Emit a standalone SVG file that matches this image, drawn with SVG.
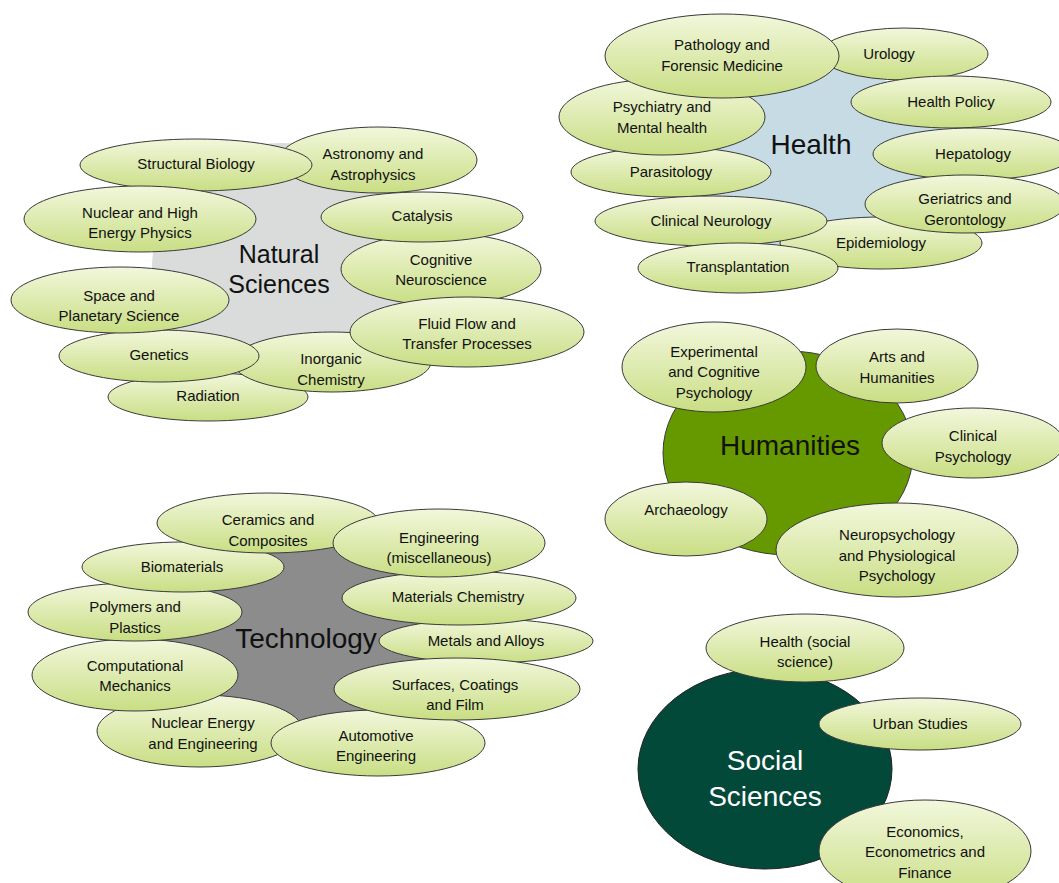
<svg xmlns="http://www.w3.org/2000/svg" width="1059" height="883" viewBox="0 0 1059 883">
  <defs>
    <linearGradient id="leafFill" x1="0" y1="0" x2="0" y2="1">
      <stop offset="0" stop-color="#f2f7dc"/>
      <stop offset="1" stop-color="#c9de84"/>
    </linearGradient>
    <style>
      .leaf { fill: url(#leafFill); stroke: #3a3a3a; stroke-width: 1; }
      .lbl { font-family: "Liberation Sans", Arial, sans-serif; font-size: 15px; fill: #111; text-anchor: middle; }
      .hub { font-family: "Liberation Sans", Arial, sans-serif; font-size: 28px; fill: #111; text-anchor: middle; }
    </style>
  </defs>
  <rect width="1059" height="883" fill="#ffffff"/>

  <!-- Natural Sciences cluster -->
  <g id="natural-sciences">
    <ellipse cx="282" cy="268" rx="130" ry="125" fill="#d9dcda"/>
    <g id="radiation"><ellipse class="leaf" cx="208" cy="397" rx="100" ry="24"/><text class="lbl" x="208" y="401">Radiation</text></g>
    <g id="inorganic-chemistry"><ellipse class="leaf" cx="332" cy="362" rx="99" ry="30"/><text class="lbl" x="331" y="364">Inorganic</text><text class="lbl" x="331" y="385">Chemistry</text></g>
    <g id="genetics"><ellipse class="leaf" cx="159" cy="356" rx="100" ry="26"/><text class="lbl" x="159" y="360">Genetics</text></g>
    <g id="space-planetary"><ellipse class="leaf" cx="120" cy="300" rx="109" ry="33"/><text class="lbl" x="119" y="301">Space and</text><text class="lbl" x="119" y="321">Planetary Science</text></g>
    <g id="astronomy"><ellipse class="leaf" cx="378" cy="160" rx="99" ry="33"/><text class="lbl" x="373" y="159">Astronomy and</text><text class="lbl" x="373" y="180">Astrophysics</text></g>
    <g id="structural-biology"><ellipse class="leaf" cx="196" cy="165" rx="116" ry="26"/><text class="lbl" x="196" y="169">Structural Biology</text></g>
    <g id="nuclear-high-energy"><ellipse class="leaf" cx="140" cy="219" rx="116" ry="33"/><text class="lbl" x="140" y="218">Nuclear and High</text><text class="lbl" x="140" y="238">Energy Physics</text></g>
    <g id="cognitive-neuroscience"><ellipse class="leaf" cx="441" cy="269" rx="100" ry="36"/><text class="lbl" x="441" y="265">Cognitive</text><text class="lbl" x="441" y="285">Neuroscience</text></g>
    <g id="catalysis"><ellipse class="leaf" cx="422" cy="217" rx="101" ry="25"/><text class="lbl" x="422" y="221">Catalysis</text></g>
    <g id="fluid-flow"><ellipse class="leaf" cx="467" cy="332" rx="117" ry="35"/><text class="lbl" x="467" y="329">Fluid Flow and</text><text class="lbl" x="467" y="349">Transfer Processes</text></g>
    <text class="hub" x="279" y="263" style="font-size:25px">Natural</text>
    <text class="hub" x="279" y="293" style="font-size:25px">Sciences</text>
  </g>

  <!-- Health cluster -->
  <g id="health">
    <ellipse cx="822" cy="163" rx="128" ry="95" fill="#c7dbe5"/>
    <g id="urology"><ellipse class="leaf" cx="904" cy="54" rx="84" ry="26"/><text class="lbl" x="889" y="59">Urology</text></g>
    <g id="parasitology"><ellipse class="leaf" cx="671" cy="172" rx="100" ry="25"/><text class="lbl" x="671" y="177">Parasitology</text></g>
    <g id="psychiatry"><ellipse class="leaf" cx="662" cy="117" rx="103" ry="38"/><text class="lbl" x="662" y="112">Psychiatry and</text><text class="lbl" x="662" y="133">Mental health</text></g>
    <g id="pathology"><ellipse class="leaf" cx="722" cy="56" rx="117" ry="42"/><text class="lbl" x="722" y="50">Pathology and</text><text class="lbl" x="722" y="71">Forensic Medicine</text></g>
    <g id="health-policy"><ellipse class="leaf" cx="951" cy="102" rx="100" ry="26"/><text class="lbl" x="951" y="107">Health Policy</text></g>
    <g id="hepatology"><ellipse class="leaf" cx="973" cy="154" rx="100" ry="26"/><text class="lbl" x="973" y="159">Hepatology</text></g>
    <g id="epidemiology"><ellipse class="leaf" cx="881" cy="243" rx="101" ry="26"/><text class="lbl" x="881" y="248">Epidemiology</text></g>
    <g id="geriatrics"><ellipse class="leaf" cx="965" cy="204" rx="100" ry="29"/><text class="lbl" x="965" y="204">Geriatrics and</text><text class="lbl" x="965" y="225">Gerontology</text></g>
    <g id="clinical-neurology"><ellipse class="leaf" cx="711" cy="221" rx="116" ry="25"/><text class="lbl" x="711" y="226">Clinical Neurology</text></g>
    <g id="transplantation"><ellipse class="leaf" cx="738" cy="268" rx="100" ry="25"/><text class="lbl" x="738" y="272">Transplantation</text></g>
    <text class="hub" x="811" y="154">Health</text>
  </g>

  <!-- Technology cluster -->
  <g id="technology">
    <ellipse cx="305" cy="635" rx="140" ry="115" fill="#8c8c8c"/>
    <g id="nuclear-energy"><ellipse class="leaf" cx="200" cy="731" rx="103" ry="36"/><text class="lbl" x="203" y="728">Nuclear Energy</text><text class="lbl" x="203" y="749">and Engineering</text></g>
    <g id="computational-mechanics"><ellipse class="leaf" cx="135" cy="675" rx="103" ry="36"/><text class="lbl" x="135" y="671">Computational</text><text class="lbl" x="135" y="691">Mechanics</text></g>
    <g id="polymers"><ellipse class="leaf" cx="135" cy="612" rx="107" ry="29"/><text class="lbl" x="135" y="612">Polymers and</text><text class="lbl" x="135" y="633">Plastics</text></g>
    <g id="biomaterials"><ellipse class="leaf" cx="183" cy="567" rx="101" ry="25"/><text class="lbl" x="182" y="572">Biomaterials</text></g>
    <g id="ceramics"><ellipse class="leaf" cx="268" cy="523" rx="111" ry="30"/><text class="lbl" x="268" y="525">Ceramics and</text><text class="lbl" x="268" y="546">Composites</text></g>
    <g id="metals-alloys"><ellipse class="leaf" cx="486" cy="641" rx="107" ry="22"/><text class="lbl" x="486" y="646">Metals and Alloys</text></g>
    <g id="materials-chemistry"><ellipse class="leaf" cx="459" cy="598" rx="117" ry="27"/><text class="lbl" x="458" y="602">Materials Chemistry</text></g>
    <g id="engineering-misc"><ellipse class="leaf" cx="439" cy="543" rx="106" ry="34"/><text class="lbl" x="439" y="543">Engineering</text><text class="lbl" x="439" y="563">(miscellaneous)</text></g>
    <g id="automotive"><ellipse class="leaf" cx="378" cy="743" rx="107" ry="33"/><text class="lbl" x="376" y="741">Automotive</text><text class="lbl" x="376" y="761">Engineering</text></g>
    <g id="surfaces"><ellipse class="leaf" cx="457" cy="689" rx="123" ry="31"/><text class="lbl" x="455" y="690">Surfaces, Coatings</text><text class="lbl" x="455" y="710">and Film</text></g>
    <text class="hub" x="306" y="648">Technology</text>
  </g>

  <!-- Humanities cluster -->
  <g id="humanities">
    <ellipse cx="788" cy="453" rx="125" ry="102" fill="#669900" stroke="#3a3a3a" stroke-width="1"/>
    <g id="experimental-psychology"><ellipse class="leaf" cx="714" cy="367" rx="92" ry="45"/><text class="lbl" x="714" y="357">Experimental</text><text class="lbl" x="714" y="377">and Cognitive</text><text class="lbl" x="714" y="398">Psychology</text></g>
    <g id="arts-humanities"><ellipse class="leaf" cx="897" cy="366" rx="81" ry="37"/><text class="lbl" x="897" y="362">Arts and</text><text class="lbl" x="897" y="383">Humanities</text></g>
    <g id="clinical-psychology"><ellipse class="leaf" cx="973" cy="443" rx="91" ry="35"/><text class="lbl" x="973" y="441">Clinical</text><text class="lbl" x="973" y="462">Psychology</text></g>
    <g id="archaeology"><ellipse class="leaf" cx="686" cy="519" rx="81" ry="37"/><text class="lbl" x="686" y="515">Archaeology</text></g>
    <g id="neuropsychology"><ellipse class="leaf" cx="897" cy="550" rx="121" ry="47"/><text class="lbl" x="897" y="540">Neuropsychology</text><text class="lbl" x="897" y="561">and Physiological</text><text class="lbl" x="897" y="581">Psychology</text></g>
    <text class="hub" x="790" y="455">Humanities</text>
  </g>

  <!-- Social Sciences cluster -->
  <g id="social-sciences">
    <ellipse cx="765" cy="769" rx="127" ry="100" fill="#03493a" stroke="#222" stroke-width="1"/>
    <text class="hub" x="765" y="770" style="fill:#ffffff">Social</text>
    <text class="hub" x="765" y="806" style="fill:#ffffff">Sciences</text>
    <g id="health-social"><ellipse class="leaf" cx="805" cy="648" rx="99" ry="34"/><text class="lbl" x="805" y="647">Health (social</text><text class="lbl" x="805" y="667">science)</text></g>
    <g id="urban-studies"><ellipse class="leaf" cx="920" cy="724" rx="101" ry="26"/><text class="lbl" x="920" y="729">Urban Studies</text></g>
    <g id="economics"><ellipse class="leaf" cx="925" cy="851" rx="106" ry="51"/><text class="lbl" x="925" y="837">Economics,</text><text class="lbl" x="925" y="857">Econometrics and</text><text class="lbl" x="925" y="878">Finance</text></g>
  </g>
</svg>
